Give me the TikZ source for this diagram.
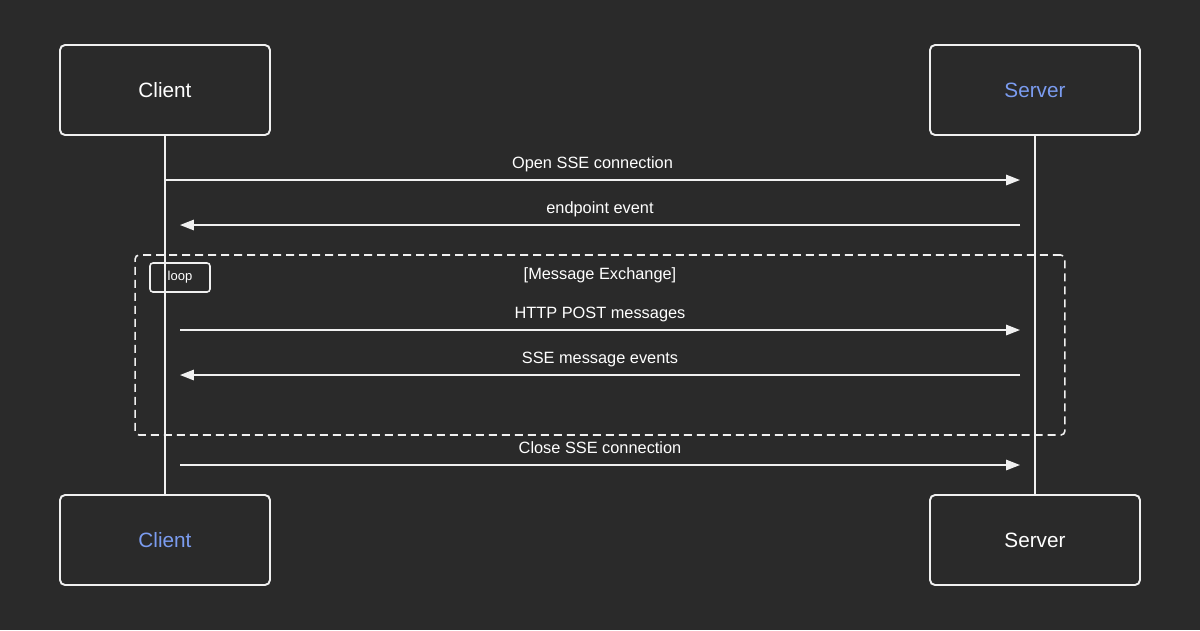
\documentclass[tikz,border=0pt]{standalone}
\usepackage{fontspec}
\setmainfont{Liberation Sans}
\usetikzlibrary{arrows.meta}
\definecolor{bgdark}{HTML}{2A2A2A}
\definecolor{actorblue}{HTML}{7B9CF0}
\definecolor{linegray}{HTML}{F0F0F0}
\tikzset{
  actor/.style={draw=linegray, line width=1.1pt, rounded corners=0.1cm,
    minimum width=4.2cm, minimum height=1.8cm,
    font=\fontsize{11.8}{14}\selectfont, text=white},
  lifeline/.style={draw=linegray, line width=0.9pt},
  msg/.style={draw=linegray, line width=0.9pt, -{Triangle[length=0.28cm, width=0.21cm]}},
  msgtext/.style={above=0.22cm, inner sep=0, text depth=0pt, text=white,
    font=\fontsize{9.3}{11}\selectfont},
}
\begin{document}
\begin{tikzpicture}[x=0.02cm, y=-0.02cm]
\fill[bgdark] (0,0) rectangle (1200,630);
\useasboundingbox (0,0) rectangle (1200,630);
\node[actor] (ct) at (165,90) {Client};
\node[actor] (st) at (1035,90) {\color{actorblue}Server};
\node[actor] (cb) at (165,540) {\color{actorblue}Client};
\node[actor] (sb) at (1035,540) {Server};
% loop frame
\node[draw=linegray, line width=0.9pt, dash pattern=on 0.16cm off 0.1cm,
  rounded corners=0.08cm, minimum width=18.6cm, minimum height=3.6cm]
  (frame) at (600,345) {};
\node[draw=linegray, line width=0.9pt, rounded corners=0.06cm,
  minimum width=1.2cm, minimum height=0.58cm, text=white,
  font=\fontsize{7.4}{9}\selectfont] (looptag) at (180,277.5) {loop};
\node[text=white, font=\fontsize{9.3}{11}\selectfont] (loopname) at (600,275)
  {[Message Exchange]};
% lifelines
\draw[lifeline] (ct) -- (cb);
\draw[lifeline] (st) -- (sb);
% messages
\coordinate (open-c) at (165,180);
\coordinate (open-s) at (1020,180);
\coordinate (end-s) at (1020,225);
\coordinate (end-c) at (180,225);
\coordinate (post-c) at (180,330);
\coordinate (post-s) at (1020,330);
\coordinate (ev-s) at (1020,375);
\coordinate (ev-c) at (180,375);
\coordinate (close-c) at (180,465);
\coordinate (close-s) at (1020,465);
\draw[msg] (open-c) -- node[msgtext]{Open SSE connection} (open-s);
\draw[msg] (end-s) -- node[msgtext]{endpoint event} (end-c);
\draw[msg] (post-c) -- node[msgtext]{HTTP POST messages} (post-s);
\draw[msg] (ev-s) -- node[msgtext]{SSE message events} (ev-c);
\draw[msg] (close-c) -- node[msgtext]{Close SSE connection} (close-s);
\end{tikzpicture}
\end{document}
